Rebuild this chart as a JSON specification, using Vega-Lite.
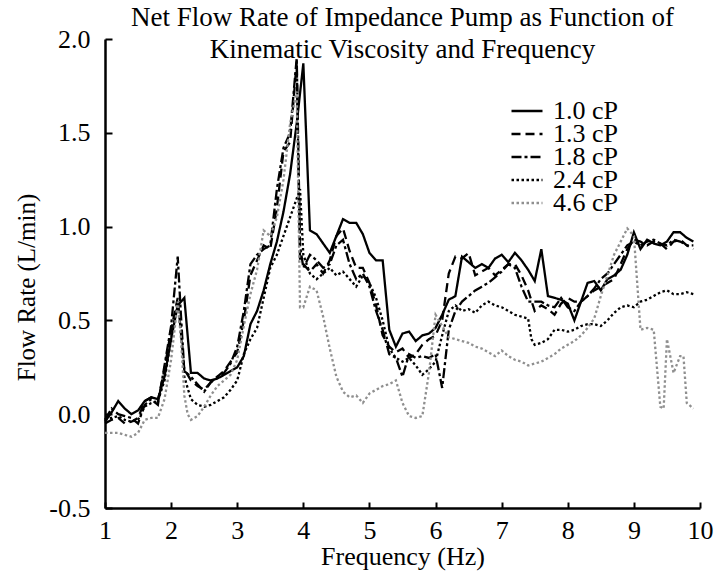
{
"$schema":"https://vega.github.io/schema/vega-lite/v6.json",
"width":595,"height":469,
"autosize":{"type":"none"},
"padding":{"left":105,"top":39,"right":14,"bottom":63},
"background":"white",
"config":{"view":{"stroke":null},"font":"Liberation Serif"},
"title":{"text":["Net Flow Rate of Impedance Pump as Function of","Kinematic Viscosity and Frequency"],"font":"Liberation Serif","fontSize":27,"fontWeight":"normal","color":"black","anchor":"middle","frame":"group","offset":-38,"lineHeight":32},
"data":{"values":[
{"s":"1.0 cP","f":1.0,"v":-0.04},{"s":"1.0 cP","f":1.1,"v":0.01},{"s":"1.0 cP","f":1.2,"v":0.07},{"s":"1.0 cP","f":1.3,"v":0.03},{"s":"1.0 cP","f":1.4,"v":0.0},{"s":"1.0 cP","f":1.5,"v":0.02},{"s":"1.0 cP","f":1.6,"v":0.07},{"s":"1.0 cP","f":1.7,"v":0.09},{"s":"1.0 cP","f":1.8,"v":0.08},{"s":"1.0 cP","f":1.9,"v":0.2},
{"s":"1.0 cP","f":2.0,"v":0.4},{"s":"1.0 cP","f":2.1,"v":0.58},{"s":"1.0 cP","f":2.2,"v":0.62},{"s":"1.0 cP","f":2.3,"v":0.22},{"s":"1.0 cP","f":2.4,"v":0.22},{"s":"1.0 cP","f":2.5,"v":0.19},{"s":"1.0 cP","f":2.6,"v":0.18},{"s":"1.0 cP","f":2.7,"v":0.19},{"s":"1.0 cP","f":2.8,"v":0.21},{"s":"1.0 cP","f":2.9,"v":0.23},
{"s":"1.0 cP","f":3.0,"v":0.25},{"s":"1.0 cP","f":3.1,"v":0.31},{"s":"1.0 cP","f":3.2,"v":0.48},{"s":"1.0 cP","f":3.3,"v":0.55},{"s":"1.0 cP","f":3.4,"v":0.66},{"s":"1.0 cP","f":3.5,"v":0.8},{"s":"1.0 cP","f":3.6,"v":0.92},{"s":"1.0 cP","f":3.7,"v":1.08},{"s":"1.0 cP","f":3.8,"v":1.28},{"s":"1.0 cP","f":3.9,"v":1.55},
{"s":"1.0 cP","f":4.0,"v":1.87},{"s":"1.0 cP","f":4.1,"v":0.98},{"s":"1.0 cP","f":4.2,"v":0.96},{"s":"1.0 cP","f":4.3,"v":0.91},{"s":"1.0 cP","f":4.4,"v":0.86},{"s":"1.0 cP","f":4.5,"v":0.95},{"s":"1.0 cP","f":4.6,"v":1.04},{"s":"1.0 cP","f":4.7,"v":1.02},{"s":"1.0 cP","f":4.8,"v":1.02},{"s":"1.0 cP","f":4.9,"v":0.96},
{"s":"1.0 cP","f":5.0,"v":0.86},{"s":"1.0 cP","f":5.1,"v":0.82},{"s":"1.0 cP","f":5.2,"v":0.82},{"s":"1.0 cP","f":5.3,"v":0.45},{"s":"1.0 cP","f":5.4,"v":0.36},{"s":"1.0 cP","f":5.5,"v":0.43},{"s":"1.0 cP","f":5.6,"v":0.44},{"s":"1.0 cP","f":5.7,"v":0.39},{"s":"1.0 cP","f":5.8,"v":0.42},{"s":"1.0 cP","f":5.9,"v":0.43},
{"s":"1.0 cP","f":6.0,"v":0.46},{"s":"1.0 cP","f":6.1,"v":0.53},{"s":"1.0 cP","f":6.2,"v":0.61},{"s":"1.0 cP","f":6.3,"v":0.63},{"s":"1.0 cP","f":6.4,"v":0.84},{"s":"1.0 cP","f":6.5,"v":0.81},{"s":"1.0 cP","f":6.6,"v":0.78},{"s":"1.0 cP","f":6.7,"v":0.8},{"s":"1.0 cP","f":6.8,"v":0.78},{"s":"1.0 cP","f":6.9,"v":0.83},
{"s":"1.0 cP","f":7.0,"v":0.85},{"s":"1.0 cP","f":7.1,"v":0.81},{"s":"1.0 cP","f":7.2,"v":0.86},{"s":"1.0 cP","f":7.3,"v":0.82},{"s":"1.0 cP","f":7.4,"v":0.77},{"s":"1.0 cP","f":7.5,"v":0.71},{"s":"1.0 cP","f":7.6,"v":0.88},{"s":"1.0 cP","f":7.7,"v":0.63},{"s":"1.0 cP","f":7.8,"v":0.62},{"s":"1.0 cP","f":7.9,"v":0.61},
{"s":"1.0 cP","f":8.0,"v":0.59},{"s":"1.0 cP","f":8.1,"v":0.5},{"s":"1.0 cP","f":8.2,"v":0.6},{"s":"1.0 cP","f":8.3,"v":0.7},{"s":"1.0 cP","f":8.4,"v":0.71},{"s":"1.0 cP","f":8.5,"v":0.66},{"s":"1.0 cP","f":8.6,"v":0.72},{"s":"1.0 cP","f":8.7,"v":0.74},{"s":"1.0 cP","f":8.8,"v":0.77},{"s":"1.0 cP","f":8.9,"v":0.85},
{"s":"1.0 cP","f":9.0,"v":0.97},{"s":"1.0 cP","f":9.1,"v":0.88},{"s":"1.0 cP","f":9.2,"v":0.93},{"s":"1.0 cP","f":9.3,"v":0.91},{"s":"1.0 cP","f":9.4,"v":0.9},{"s":"1.0 cP","f":9.5,"v":0.92},{"s":"1.0 cP","f":9.6,"v":0.97},{"s":"1.0 cP","f":9.7,"v":0.97},{"s":"1.0 cP","f":9.8,"v":0.94},{"s":"1.0 cP","f":9.9,"v":0.92},

{"s":"1.3 cP","f":1.0,"v":-0.05},{"s":"1.3 cP","f":1.1,"v":-0.03},{"s":"1.3 cP","f":1.2,"v":-0.02},{"s":"1.3 cP","f":1.3,"v":-0.05},{"s":"1.3 cP","f":1.4,"v":-0.04},{"s":"1.3 cP","f":1.5,"v":-0.02},{"s":"1.3 cP","f":1.6,"v":0.07},{"s":"1.3 cP","f":1.7,"v":0.09},{"s":"1.3 cP","f":1.8,"v":0.07},{"s":"1.3 cP","f":1.9,"v":0.24},
{"s":"1.3 cP","f":2.0,"v":0.45},{"s":"1.3 cP","f":2.1,"v":0.62},{"s":"1.3 cP","f":2.15,"v":0.43},{"s":"1.3 cP","f":2.2,"v":0.24},{"s":"1.3 cP","f":2.3,"v":0.18},{"s":"1.3 cP","f":2.4,"v":0.15},{"s":"1.3 cP","f":2.5,"v":0.13},{"s":"1.3 cP","f":2.6,"v":0.17},{"s":"1.3 cP","f":2.7,"v":0.2},{"s":"1.3 cP","f":2.8,"v":0.23},{"s":"1.3 cP","f":2.9,"v":0.28},
{"s":"1.3 cP","f":3.0,"v":0.33},{"s":"1.3 cP","f":3.1,"v":0.5},{"s":"1.3 cP","f":3.2,"v":0.74},{"s":"1.3 cP","f":3.3,"v":0.82},{"s":"1.3 cP","f":3.4,"v":0.9},{"s":"1.3 cP","f":3.5,"v":0.88},{"s":"1.3 cP","f":3.6,"v":1.1},{"s":"1.3 cP","f":3.7,"v":1.4},{"s":"1.3 cP","f":3.8,"v":1.45},{"s":"1.3 cP","f":3.9,"v":1.88},{"s":"1.3 cP","f":3.95,"v":0.82},
{"s":"1.3 cP","f":4.0,"v":0.8},{"s":"1.3 cP","f":4.1,"v":0.76},{"s":"1.3 cP","f":4.2,"v":0.8},{"s":"1.3 cP","f":4.3,"v":0.75},{"s":"1.3 cP","f":4.4,"v":0.82},{"s":"1.3 cP","f":4.5,"v":0.95},{"s":"1.3 cP","f":4.6,"v":0.99},{"s":"1.3 cP","f":4.7,"v":0.87},{"s":"1.3 cP","f":4.8,"v":0.78},{"s":"1.3 cP","f":4.9,"v":0.78},
{"s":"1.3 cP","f":5.0,"v":0.7},{"s":"1.3 cP","f":5.1,"v":0.58},{"s":"1.3 cP","f":5.2,"v":0.42},{"s":"1.3 cP","f":5.3,"v":0.36},{"s":"1.3 cP","f":5.4,"v":0.33},{"s":"1.3 cP","f":5.5,"v":0.35},{"s":"1.3 cP","f":5.6,"v":0.3},{"s":"1.3 cP","f":5.7,"v":0.32},{"s":"1.3 cP","f":5.8,"v":0.37},{"s":"1.3 cP","f":5.9,"v":0.4},
{"s":"1.3 cP","f":6.0,"v":0.42},{"s":"1.3 cP","f":6.1,"v":0.5},{"s":"1.3 cP","f":6.2,"v":0.75},{"s":"1.3 cP","f":6.3,"v":0.84},{"s":"1.3 cP","f":6.4,"v":0.83},{"s":"1.3 cP","f":6.5,"v":0.86},{"s":"1.3 cP","f":6.6,"v":0.74},{"s":"1.3 cP","f":6.7,"v":0.76},{"s":"1.3 cP","f":6.8,"v":0.78},{"s":"1.3 cP","f":6.9,"v":0.74},
{"s":"1.3 cP","f":7.0,"v":0.77},{"s":"1.3 cP","f":7.1,"v":0.8},{"s":"1.3 cP","f":7.2,"v":0.8},{"s":"1.3 cP","f":7.3,"v":0.74},{"s":"1.3 cP","f":7.4,"v":0.66},{"s":"1.3 cP","f":7.5,"v":0.55},{"s":"1.3 cP","f":7.6,"v":0.58},{"s":"1.3 cP","f":7.7,"v":0.56},{"s":"1.3 cP","f":7.8,"v":0.53},{"s":"1.3 cP","f":7.9,"v":0.59},
{"s":"1.3 cP","f":8.0,"v":0.62},{"s":"1.3 cP","f":8.1,"v":0.6},{"s":"1.3 cP","f":8.2,"v":0.6},{"s":"1.3 cP","f":8.3,"v":0.63},{"s":"1.3 cP","f":8.4,"v":0.66},{"s":"1.3 cP","f":8.5,"v":0.68},{"s":"1.3 cP","f":8.6,"v":0.7},{"s":"1.3 cP","f":8.7,"v":0.72},{"s":"1.3 cP","f":8.8,"v":0.8},{"s":"1.3 cP","f":8.9,"v":0.88},
{"s":"1.3 cP","f":9.0,"v":0.93},{"s":"1.3 cP","f":9.1,"v":0.92},{"s":"1.3 cP","f":9.2,"v":0.9},{"s":"1.3 cP","f":9.3,"v":0.92},{"s":"1.3 cP","f":9.4,"v":0.91},{"s":"1.3 cP","f":9.5,"v":0.88},{"s":"1.3 cP","f":9.6,"v":0.92},{"s":"1.3 cP","f":9.7,"v":0.93},{"s":"1.3 cP","f":9.8,"v":0.9},{"s":"1.3 cP","f":9.9,"v":0.88},

{"s":"1.8 cP","f":1.0,"v":-0.03},{"s":"1.8 cP","f":1.1,"v":0.03},{"s":"1.8 cP","f":1.2,"v":0.0},{"s":"1.8 cP","f":1.3,"v":-0.01},{"s":"1.8 cP","f":1.4,"v":-0.02},{"s":"1.8 cP","f":1.5,"v":-0.05},{"s":"1.8 cP","f":1.6,"v":0.05},{"s":"1.8 cP","f":1.7,"v":0.08},{"s":"1.8 cP","f":1.8,"v":0.05},{"s":"1.8 cP","f":1.9,"v":0.26},
{"s":"1.8 cP","f":2.0,"v":0.47},{"s":"1.8 cP","f":2.1,"v":0.84},{"s":"1.8 cP","f":2.15,"v":0.52},{"s":"1.8 cP","f":2.2,"v":0.23},{"s":"1.8 cP","f":2.3,"v":0.2},{"s":"1.8 cP","f":2.4,"v":0.16},{"s":"1.8 cP","f":2.5,"v":0.12},{"s":"1.8 cP","f":2.6,"v":0.17},{"s":"1.8 cP","f":2.7,"v":0.2},{"s":"1.8 cP","f":2.8,"v":0.22},{"s":"1.8 cP","f":2.9,"v":0.27},
{"s":"1.8 cP","f":3.0,"v":0.36},{"s":"1.8 cP","f":3.1,"v":0.55},{"s":"1.8 cP","f":3.2,"v":0.8},{"s":"1.8 cP","f":3.3,"v":0.85},{"s":"1.8 cP","f":3.4,"v":0.88},{"s":"1.8 cP","f":3.5,"v":0.9},{"s":"1.8 cP","f":3.6,"v":1.2},{"s":"1.8 cP","f":3.7,"v":1.42},{"s":"1.8 cP","f":3.8,"v":1.5},{"s":"1.8 cP","f":3.9,"v":1.9},{"s":"1.8 cP","f":3.95,"v":0.9},
{"s":"1.8 cP","f":4.0,"v":0.78},{"s":"1.8 cP","f":4.1,"v":0.85},{"s":"1.8 cP","f":4.2,"v":0.82},{"s":"1.8 cP","f":4.3,"v":0.78},{"s":"1.8 cP","f":4.4,"v":0.8},{"s":"1.8 cP","f":4.5,"v":0.9},{"s":"1.8 cP","f":4.6,"v":0.93},{"s":"1.8 cP","f":4.7,"v":0.8},{"s":"1.8 cP","f":4.8,"v":0.72},{"s":"1.8 cP","f":4.9,"v":0.75},
{"s":"1.8 cP","f":5.0,"v":0.68},{"s":"1.8 cP","f":5.1,"v":0.55},{"s":"1.8 cP","f":5.2,"v":0.45},{"s":"1.8 cP","f":5.3,"v":0.32},{"s":"1.8 cP","f":5.4,"v":0.3},{"s":"1.8 cP","f":5.5,"v":0.2},{"s":"1.8 cP","f":5.6,"v":0.32},{"s":"1.8 cP","f":5.7,"v":0.3},{"s":"1.8 cP","f":5.8,"v":0.31},{"s":"1.8 cP","f":5.9,"v":0.3},
{"s":"1.8 cP","f":6.0,"v":0.32},{"s":"1.8 cP","f":6.1,"v":0.14},{"s":"1.8 cP","f":6.2,"v":0.45},{"s":"1.8 cP","f":6.3,"v":0.55},{"s":"1.8 cP","f":6.4,"v":0.6},{"s":"1.8 cP","f":6.5,"v":0.63},{"s":"1.8 cP","f":6.6,"v":0.66},{"s":"1.8 cP","f":6.7,"v":0.68},{"s":"1.8 cP","f":6.8,"v":0.7},{"s":"1.8 cP","f":6.9,"v":0.73},
{"s":"1.8 cP","f":7.0,"v":0.76},{"s":"1.8 cP","f":7.1,"v":0.8},{"s":"1.8 cP","f":7.2,"v":0.78},{"s":"1.8 cP","f":7.3,"v":0.68},{"s":"1.8 cP","f":7.4,"v":0.6},{"s":"1.8 cP","f":7.5,"v":0.6},{"s":"1.8 cP","f":7.6,"v":0.6},{"s":"1.8 cP","f":7.7,"v":0.58},{"s":"1.8 cP","f":7.8,"v":0.57},{"s":"1.8 cP","f":7.9,"v":0.62},
{"s":"1.8 cP","f":8.0,"v":0.57},{"s":"1.8 cP","f":8.1,"v":0.55},{"s":"1.8 cP","f":8.2,"v":0.6},{"s":"1.8 cP","f":8.3,"v":0.63},{"s":"1.8 cP","f":8.4,"v":0.67},{"s":"1.8 cP","f":8.5,"v":0.72},{"s":"1.8 cP","f":8.6,"v":0.75},{"s":"1.8 cP","f":8.7,"v":0.8},{"s":"1.8 cP","f":8.8,"v":0.85},{"s":"1.8 cP","f":8.9,"v":0.9},
{"s":"1.8 cP","f":9.0,"v":0.92},{"s":"1.8 cP","f":9.1,"v":0.9},{"s":"1.8 cP","f":9.2,"v":0.92},{"s":"1.8 cP","f":9.3,"v":0.93},{"s":"1.8 cP","f":9.4,"v":0.91},{"s":"1.8 cP","f":9.5,"v":0.9},{"s":"1.8 cP","f":9.6,"v":0.93},{"s":"1.8 cP","f":9.7,"v":0.92},{"s":"1.8 cP","f":9.8,"v":0.9},{"s":"1.8 cP","f":9.9,"v":0.9},

{"s":"2.4 cP","f":1.0,"v":-0.03},{"s":"2.4 cP","f":1.1,"v":-0.02},{"s":"2.4 cP","f":1.2,"v":-0.01},{"s":"2.4 cP","f":1.3,"v":-0.03},{"s":"2.4 cP","f":1.4,"v":-0.04},{"s":"2.4 cP","f":1.5,"v":-0.03},{"s":"2.4 cP","f":1.6,"v":0.04},{"s":"2.4 cP","f":1.7,"v":0.06},{"s":"2.4 cP","f":1.8,"v":0.07},{"s":"2.4 cP","f":1.9,"v":0.18},
{"s":"2.4 cP","f":2.0,"v":0.4},{"s":"2.4 cP","f":2.1,"v":0.6},{"s":"2.4 cP","f":2.15,"v":0.43},{"s":"2.4 cP","f":2.2,"v":0.2},{"s":"2.4 cP","f":2.3,"v":0.08},{"s":"2.4 cP","f":2.4,"v":0.05},{"s":"2.4 cP","f":2.5,"v":0.04},{"s":"2.4 cP","f":2.6,"v":0.05},{"s":"2.4 cP","f":2.7,"v":0.07},{"s":"2.4 cP","f":2.8,"v":0.09},{"s":"2.4 cP","f":2.9,"v":0.13},
{"s":"2.4 cP","f":3.0,"v":0.18},{"s":"2.4 cP","f":3.1,"v":0.32},{"s":"2.4 cP","f":3.2,"v":0.4},{"s":"2.4 cP","f":3.3,"v":0.46},{"s":"2.4 cP","f":3.4,"v":0.62},{"s":"2.4 cP","f":3.5,"v":0.78},{"s":"2.4 cP","f":3.6,"v":0.85},{"s":"2.4 cP","f":3.7,"v":0.95},{"s":"2.4 cP","f":3.8,"v":1.05},{"s":"2.4 cP","f":3.9,"v":1.15},{"s":"2.4 cP","f":3.95,"v":1.2},
{"s":"2.4 cP","f":4.0,"v":0.85},{"s":"2.4 cP","f":4.1,"v":0.75},{"s":"2.4 cP","f":4.2,"v":0.72},{"s":"2.4 cP","f":4.3,"v":0.75},{"s":"2.4 cP","f":4.4,"v":0.78},{"s":"2.4 cP","f":4.5,"v":0.74},{"s":"2.4 cP","f":4.6,"v":0.76},{"s":"2.4 cP","f":4.7,"v":0.72},{"s":"2.4 cP","f":4.8,"v":0.68},{"s":"2.4 cP","f":4.9,"v":0.74},
{"s":"2.4 cP","f":5.0,"v":0.7},{"s":"2.4 cP","f":5.1,"v":0.62},{"s":"2.4 cP","f":5.2,"v":0.5},{"s":"2.4 cP","f":5.3,"v":0.35},{"s":"2.4 cP","f":5.4,"v":0.3},{"s":"2.4 cP","f":5.5,"v":0.28},{"s":"2.4 cP","f":5.6,"v":0.3},{"s":"2.4 cP","f":5.7,"v":0.26},{"s":"2.4 cP","f":5.8,"v":0.21},{"s":"2.4 cP","f":5.9,"v":0.24},
{"s":"2.4 cP","f":6.0,"v":0.28},{"s":"2.4 cP","f":6.1,"v":0.42},{"s":"2.4 cP","f":6.2,"v":0.55},{"s":"2.4 cP","f":6.3,"v":0.58},{"s":"2.4 cP","f":6.4,"v":0.55},{"s":"2.4 cP","f":6.5,"v":0.56},{"s":"2.4 cP","f":6.6,"v":0.54},{"s":"2.4 cP","f":6.7,"v":0.58},{"s":"2.4 cP","f":6.8,"v":0.6},{"s":"2.4 cP","f":6.9,"v":0.58},
{"s":"2.4 cP","f":7.0,"v":0.57},{"s":"2.4 cP","f":7.1,"v":0.55},{"s":"2.4 cP","f":7.2,"v":0.53},{"s":"2.4 cP","f":7.3,"v":0.52},{"s":"2.4 cP","f":7.4,"v":0.51},{"s":"2.4 cP","f":7.45,"v":0.4},{"s":"2.4 cP","f":7.5,"v":0.37},{"s":"2.4 cP","f":7.6,"v":0.38},{"s":"2.4 cP","f":7.7,"v":0.4},{"s":"2.4 cP","f":7.8,"v":0.45},{"s":"2.4 cP","f":7.9,"v":0.45},
{"s":"2.4 cP","f":8.0,"v":0.44},{"s":"2.4 cP","f":8.1,"v":0.45},{"s":"2.4 cP","f":8.2,"v":0.47},{"s":"2.4 cP","f":8.3,"v":0.48},{"s":"2.4 cP","f":8.4,"v":0.48},{"s":"2.4 cP","f":8.5,"v":0.47},{"s":"2.4 cP","f":8.6,"v":0.5},{"s":"2.4 cP","f":8.7,"v":0.54},{"s":"2.4 cP","f":8.8,"v":0.57},{"s":"2.4 cP","f":8.9,"v":0.58},
{"s":"2.4 cP","f":9.0,"v":0.57},{"s":"2.4 cP","f":9.1,"v":0.6},{"s":"2.4 cP","f":9.2,"v":0.61},{"s":"2.4 cP","f":9.3,"v":0.63},{"s":"2.4 cP","f":9.4,"v":0.65},{"s":"2.4 cP","f":9.5,"v":0.66},{"s":"2.4 cP","f":9.6,"v":0.64},{"s":"2.4 cP","f":9.7,"v":0.64},{"s":"2.4 cP","f":9.8,"v":0.65},{"s":"2.4 cP","f":9.9,"v":0.64},

{"s":"4.6 cP","f":1.0,"v":-0.1},{"s":"4.6 cP","f":1.1,"v":-0.1},{"s":"4.6 cP","f":1.2,"v":-0.1},{"s":"4.6 cP","f":1.3,"v":-0.11},{"s":"4.6 cP","f":1.4,"v":-0.12},{"s":"4.6 cP","f":1.5,"v":-0.1},{"s":"4.6 cP","f":1.6,"v":-0.03},{"s":"4.6 cP","f":1.7,"v":-0.02},{"s":"4.6 cP","f":1.8,"v":-0.02},{"s":"4.6 cP","f":1.9,"v":0.08},
{"s":"4.6 cP","f":2.0,"v":0.29},{"s":"4.6 cP","f":2.1,"v":0.6},{"s":"4.6 cP","f":2.15,"v":0.4},{"s":"4.6 cP","f":2.2,"v":0.1},{"s":"4.6 cP","f":2.25,"v":0.0},{"s":"4.6 cP","f":2.3,"v":-0.03},{"s":"4.6 cP","f":2.4,"v":-0.01},{"s":"4.6 cP","f":2.5,"v":0.04},{"s":"4.6 cP","f":2.6,"v":0.1},{"s":"4.6 cP","f":2.7,"v":0.15},{"s":"4.6 cP","f":2.8,"v":0.18},{"s":"4.6 cP","f":2.9,"v":0.21},
{"s":"4.6 cP","f":3.0,"v":0.29},{"s":"4.6 cP","f":3.1,"v":0.47},{"s":"4.6 cP","f":3.2,"v":0.64},{"s":"4.6 cP","f":3.3,"v":0.77},{"s":"4.6 cP","f":3.4,"v":0.98},{"s":"4.6 cP","f":3.5,"v":0.95},{"s":"4.6 cP","f":3.6,"v":1.05},{"s":"4.6 cP","f":3.7,"v":1.25},{"s":"4.6 cP","f":3.8,"v":1.55},{"s":"4.6 cP","f":3.9,"v":1.72},{"s":"4.6 cP","f":3.95,"v":0.57},
{"s":"4.6 cP","f":4.0,"v":0.57},{"s":"4.6 cP","f":4.1,"v":0.68},{"s":"4.6 cP","f":4.2,"v":0.66},{"s":"4.6 cP","f":4.3,"v":0.52},{"s":"4.6 cP","f":4.4,"v":0.35},{"s":"4.6 cP","f":4.5,"v":0.2},{"s":"4.6 cP","f":4.6,"v":0.12},{"s":"4.6 cP","f":4.7,"v":0.09},{"s":"4.6 cP","f":4.8,"v":0.1},{"s":"4.6 cP","f":4.9,"v":0.06},
{"s":"4.6 cP","f":5.0,"v":0.11},{"s":"4.6 cP","f":5.1,"v":0.13},{"s":"4.6 cP","f":5.2,"v":0.15},{"s":"4.6 cP","f":5.3,"v":0.16},{"s":"4.6 cP","f":5.4,"v":0.18},{"s":"4.6 cP","f":5.5,"v":0.06},{"s":"4.6 cP","f":5.6,"v":-0.01},{"s":"4.6 cP","f":5.7,"v":-0.02},{"s":"4.6 cP","f":5.8,"v":-0.01},{"s":"4.6 cP","f":5.9,"v":0.22},
{"s":"4.6 cP","f":6.0,"v":0.53},{"s":"4.6 cP","f":6.1,"v":0.47},{"s":"4.6 cP","f":6.2,"v":0.41},{"s":"4.6 cP","f":6.3,"v":0.4},{"s":"4.6 cP","f":6.4,"v":0.39},{"s":"4.6 cP","f":6.5,"v":0.38},{"s":"4.6 cP","f":6.6,"v":0.36},{"s":"4.6 cP","f":6.7,"v":0.35},{"s":"4.6 cP","f":6.8,"v":0.33},{"s":"4.6 cP","f":6.9,"v":0.31},
{"s":"4.6 cP","f":7.0,"v":0.34},{"s":"4.6 cP","f":7.1,"v":0.31},{"s":"4.6 cP","f":7.2,"v":0.29},{"s":"4.6 cP","f":7.3,"v":0.28},{"s":"4.6 cP","f":7.4,"v":0.26},{"s":"4.6 cP","f":7.5,"v":0.27},{"s":"4.6 cP","f":7.6,"v":0.28},{"s":"4.6 cP","f":7.7,"v":0.3},{"s":"4.6 cP","f":7.8,"v":0.32},{"s":"4.6 cP","f":7.9,"v":0.35},
{"s":"4.6 cP","f":8.0,"v":0.37},{"s":"4.6 cP","f":8.1,"v":0.39},{"s":"4.6 cP","f":8.2,"v":0.42},{"s":"4.6 cP","f":8.3,"v":0.46},{"s":"4.6 cP","f":8.4,"v":0.51},{"s":"4.6 cP","f":8.5,"v":0.63},{"s":"4.6 cP","f":8.6,"v":0.74},{"s":"4.6 cP","f":8.7,"v":0.85},{"s":"4.6 cP","f":8.8,"v":0.92},{"s":"4.6 cP","f":8.9,"v":0.99},
{"s":"4.6 cP","f":9.0,"v":0.95},{"s":"4.6 cP","f":9.05,"v":0.7},{"s":"4.6 cP","f":9.1,"v":0.45},{"s":"4.6 cP","f":9.2,"v":0.46},{"s":"4.6 cP","f":9.3,"v":0.45},{"s":"4.6 cP","f":9.4,"v":0.04},{"s":"4.6 cP","f":9.45,"v":0.03},{"s":"4.6 cP","f":9.5,"v":0.4},{"s":"4.6 cP","f":9.55,"v":0.31},{"s":"4.6 cP","f":9.6,"v":0.22},{"s":"4.6 cP","f":9.7,"v":0.31},{"s":"4.6 cP","f":9.75,"v":0.31},{"s":"4.6 cP","f":9.8,"v":0.06},{"s":"4.6 cP","f":9.9,"v":0.03}
]},
"mark":{"type":"line","strokeWidth":2.3,"strokeJoin":"miter"},
"encoding":{
"x":{"field":"f","type":"quantitative","scale":{"domain":[1,10],"nice":false,"zero":false},
"axis":{"values":[1,2,3,4,5,6,7,8,9,10],"title":"Frequency (Hz)","grid":false,"tickSize":-6,"tickWidth":2,"tickColor":"black","domainColor":"black","domainWidth":2.5,"labelPadding":15,"labelFont":"Liberation Serif","labelFontSize":26,"labelColor":"black","titleFont":"Liberation Serif","titleFontSize":26,"titleFontWeight":"normal","titleColor":"black","titlePadding":0,"labelFlush":false}},
"y":{"field":"v","type":"quantitative","scale":{"domain":[-0.5,2],"nice":false,"zero":false},
"axis":{"values":[-0.5,0,0.5,1,1.5,2],"format":".1f","labelExpr":"replace(datum.label, '−', '-')","title":"Flow Rate (L/min)","grid":false,"tickSize":-7,"tickWidth":2,"tickColor":"black","domainColor":"black","domainWidth":2.5,"labelPadding":22,"labelFont":"Liberation Serif","labelFontSize":26,"labelColor":"black","titleFont":"Liberation Serif","titleFontSize":25,"titleFontWeight":"normal","titleColor":"black","titlePadding":9,"titleY":248,"labelFlush":false}},
"color":{"field":"s","type":"nominal","scale":{"domain":["1.0 cP","1.3 cP","1.8 cP","2.4 cP","4.6 cP"],"range":["black","black","black","black","#8f8f8f"]},
"legend":{"orient":"none","legendX":405,"legendY":62,"title":null,"padding":0,"symbolType":"stroke","symbolSize":961,"symbolStrokeWidth":2.5,"labelFont":"Liberation Serif","labelFontSize":26,"labelColor":"black","labelOffset":9,"rowPadding":-9,"clipHeight":20}},
"strokeDash":{"field":"s","type":"nominal","scale":{"domain":["1.0 cP","1.3 cP","1.8 cP","2.4 cP","4.6 cP"],"range":[[1,0],[9,5],[10,3,3,3],[2.5,2.5],[2.5,2.5]]},
"legend":{"orient":"none","legendX":405,"legendY":62,"title":null,"padding":0,"symbolType":"stroke","symbolSize":961,"symbolStrokeWidth":2.5,"labelFont":"Liberation Serif","labelFontSize":26,"labelColor":"black","labelOffset":9,"rowPadding":-9,"clipHeight":20}}
}
}
